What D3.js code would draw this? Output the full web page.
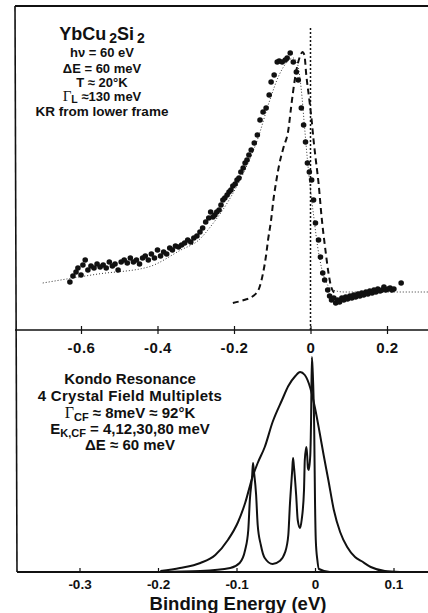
<!DOCTYPE html>
<html>
<head>
<meta charset="utf-8">
<script src="https://cdn.jsdelivr.net/npm/d3@7"></script>
<style>
  body { margin: 0; background: #fff; }
  text { font-family: "Liberation Sans", Arial, Helvetica, sans-serif; font-weight: bold; fill: #111; }
</style>
</head>
<body>
<div id="chart"></div>
<script>
// ---- data (binding energy in eV, intensity in arbitrary units) ----
const upperTicks = [-0.6, -0.4, -0.2, 0, 0.2];
const lowerTicks = [-0.3, -0.2, -0.1, 0, 0.1];

// measured spectrum (dots)
const photoData = [
  [-0.629,48],[-0.621,54],[-0.613,58],[-0.608,62],[-0.600,55],[-0.595,65],[-0.589,70],[-0.582,60],
  [-0.574,64],[-0.566,62],[-0.558,66],[-0.550,63],[-0.542,65],[-0.534,62],[-0.526,68],[-0.518,64],
  [-0.511,66],[-0.503,60],[-0.495,68],[-0.487,70],[-0.479,67],[-0.471,72],[-0.463,68],[-0.455,70],
  [-0.447,66],[-0.439,72],[-0.432,74],[-0.424,70],[-0.416,76],[-0.408,72],[-0.400,80],[-0.392,74],
  [-0.384,78],[-0.376,76],[-0.368,82],[-0.361,80],[-0.353,84],[-0.345,83],[-0.337,85],[-0.329,87],
  [-0.321,90],[-0.313,88],[-0.305,92],[-0.297,94],[-0.289,98],[-0.282,102],[-0.274,108],[-0.266,112],
  [-0.261,118],[-0.255,113],[-0.250,115],[-0.245,118],[-0.239,120],[-0.234,125],[-0.229,130],[-0.224,132],
  [-0.218,135],[-0.213,138],[-0.208,140],[-0.203,144],[-0.197,146],[-0.192,150],[-0.187,152],[-0.182,158],
  [-0.176,162],[-0.171,167],[-0.166,170],[-0.161,175],[-0.155,180],[-0.147,187],[-0.139,195],[-0.132,210],
  [-0.124,218],[-0.116,222],[-0.108,235],[-0.103,248],[-0.095,255],[-0.087,268],[-0.082,269],[-0.074,268],
  [-0.066,270],[-0.061,272],[-0.053,277],[-0.045,268],[-0.037,258],[-0.032,250],[-0.024,222],[-0.018,205],
  [-0.013,188],[-0.008,167],[-0.003,158],[0.003,150],[0.008,130],[0.013,107],[0.021,90],[0.026,73],
  [0.032,57],[0.037,50],[0.045,40],[0.050,34],[0.055,30],[0.061,32],[0.066,27],[0.071,30],
  [0.076,28],[0.082,32],[0.087,30],[0.092,33],[0.097,31],[0.103,34],[0.108,32],[0.113,35],
  [0.118,33],[0.124,36],[0.129,34],[0.134,37],[0.139,35],[0.145,38],[0.150,36],[0.155,39],
  [0.161,37],[0.166,40],[0.171,38],[0.176,41],[0.182,39],[0.187,40],[0.192,43],[0.197,40],
  [0.203,41],[0.208,42],[0.213,40],[0.218,41],[0.237,47]
];

// fitted curve (fine dotted)
const fitCurve = [
  [-0.700,47],[-0.555,56],[-0.424,63],[-0.339,80],[-0.292,90],[-0.258,105],[-0.213,130],[-0.174,158],
  [-0.139,190],[-0.108,228],[-0.082,255],[-0.061,268],[-0.045,272],[-0.034,266],[-0.024,240],[-0.016,205],
  [-0.008,170],[0.000,140],[0.008,115],[0.018,85],[0.029,62],[0.042,47],[0.058,40],[0.089,38],
  [0.182,38],[0.308,38]
];

// Kondo resonance from lower frame, broadened (dashed)
const krCurve = [
  [-0.203,27],[-0.174,30],[-0.150,34],[-0.134,42],[-0.124,57],[-0.116,75],[-0.111,90],[-0.103,110],
  [-0.097,130],[-0.089,150],[-0.082,165],[-0.071,182],[-0.058,200],[-0.050,225],[-0.042,248],[-0.034,265],
  [-0.026,275],[-0.021,278],[-0.016,275],[-0.011,255],[-0.003,230],[0.003,210],[0.008,190],[0.013,173],
  [0.021,147],[0.029,113],[0.039,80],[0.047,57],[0.055,42],[0.066,36]
];

// lower frame: convolved resonance (broad) and crystal field multiplets (narrow)
const broadCurve = [
  [-0.197,1],[-0.172,4],[-0.146,9],[-0.127,17],[-0.111,32],[-0.098,50],[-0.089,69],[-0.080,94],
  [-0.073,109],[-0.064,125],[-0.054,150],[-0.042,172],[-0.034,186],[-0.025,196],[-0.019,200],[-0.013,197],
  [-0.006,184],[0.000,164],[0.006,139],[0.011,117],[0.017,92],[0.024,62],[0.032,40],[0.041,25],
  [0.051,15],[0.059,11],[0.071,5],[0.089,1],[0.108,0]
];
const multipletCurve = [
  [-0.200,0],[-0.146,1],[-0.108,4],[-0.096,9],[-0.089,22],[-0.085,42],[-0.083,72],[-0.080,97],
  [-0.079,109],[-0.078,102],[-0.075,77],[-0.073,47],[-0.069,27],[-0.064,14],[-0.054,8],[-0.045,11],
  [-0.038,20],[-0.034,37],[-0.032,67],[-0.029,102],[-0.028,114],[-0.027,107],[-0.024,77],[-0.022,52],
  [-0.019,44],[-0.017,52],[-0.014,82],[-0.013,112],[-0.011,125],[-0.010,117],[-0.009,104],[-0.008,102],
  [-0.006,117],[-0.005,152],[-0.004,215],[-0.003,202],[-0.001,142],[0.000,72],[0.001,32],[0.003,12],
  [0.005,3],[0.019,0],[0.108,0]
];

// ---- layout ----
const W = 428, H = 613;
const left = 15, right = 428;
const topY = 6, midY = 330, botY = 572;

const svg = d3.select("#chart").append("svg")
    .attr("width", W)
    .attr("height", H);

// scales
const xTop = d3.scaleLinear().domain([-0.6, 0.2]).range([81, 387]);
const yTop = d3.scaleLinear().domain([0, 324]).range([midY, topY]);
const xBot = d3.scaleLinear().domain([-0.3, 0.1]).range([79.5, 393.5]);
const yBot = d3.scaleLinear().domain([0, 242]).range([botY, midY]);

const fmt = d => d === 0 ? "0" : d.toFixed(1);

// frame lines
svg.append("line").attr("x1", left).attr("x2", right).attr("y1", topY).attr("y2", topY)
    .attr("stroke", "#111").attr("stroke-width", 2);
svg.append("line").attr("x1", left).attr("x2", left + 2).attr("y1", topY).attr("y2", botY)
    .attr("stroke", "#111").attr("stroke-width", 1.6);
svg.append("line").attr("x1", left).attr("x2", right).attr("y1", midY).attr("y2", midY)
    .attr("stroke", "#111").attr("stroke-width", 1.6);
svg.append("line").attr("x1", left + 2).attr("x2", right).attr("y1", botY).attr("y2", botY)
    .attr("stroke", "#111").attr("stroke-width", 1.8);

// upper axis (ticks cross the middle line)
const upperAxis = svg.append("g")
    .attr("transform", `translate(0,${midY})`)
    .call(d3.axisBottom(xTop).tickValues(upperTicks).tickFormat(fmt).tickSize(4).tickPadding(8));
upperAxis.select(".domain").remove();
upperAxis.selectAll(".tick line").attr("y1", -4).attr("y2", 4).attr("stroke", "#111").attr("stroke-width", 1.2);
upperAxis.selectAll(".tick text").attr("font-size", 15).attr("font-family", null).attr("fill", "#111")
    .attr("letter-spacing", 0.5);

// lower axis
const lowerAxis = svg.append("g")
    .attr("transform", `translate(0,${botY})`)
    .call(d3.axisBottom(xBot).tickValues(lowerTicks).tickFormat(fmt).tickSize(4).tickPadding(3));
lowerAxis.select(".domain").remove();
lowerAxis.selectAll(".tick line").attr("y1", -4).attr("y2", 0).attr("stroke", "#111").attr("stroke-width", 1.2);
lowerAxis.selectAll(".tick text").attr("font-size", 13.5).attr("font-family", null).attr("fill", "#111");

svg.append("text")
    .attr("x", 238).attr("y", 610)
    .attr("text-anchor", "middle")
    .attr("font-size", 18.5)
    .text("Binding Energy (eV)");

// ---- upper frame ----
const lineTop = d3.line().x(d => xTop(d[0])).y(d => yTop(d[1])).curve(d3.curveMonotoneX);

svg.append("line")
    .attr("x1", xTop(0)).attr("x2", xTop(0))
    .attr("y1", yTop(302)).attr("y2", yTop(0))
    .attr("stroke", "#111").attr("stroke-width", 1.5).attr("stroke-dasharray", "2,2");

svg.append("path").datum(fitCurve)
    .attr("d", lineTop)
    .attr("fill", "none").attr("stroke", "#333").attr("stroke-width", 1)
    .attr("stroke-dasharray", "1,2");

svg.append("path").datum(krCurve)
    .attr("d", lineTop)
    .attr("fill", "none").attr("stroke", "#111").attr("stroke-width", 2)
    .attr("stroke-dasharray", "6,4");

svg.selectAll(".dot").data(photoData).enter().append("circle")
    .attr("class", "dot")
    .attr("cx", d => xTop(d[0]))
    .attr("cy", d => yTop(d[1]))
    .attr("r", 2.8)
    .attr("fill", "#111");

// upper labels
const ut = svg.append("g").attr("text-anchor", "middle");
const t1 = ut.append("text").attr("x", 102).attr("y", 40).attr("font-size", 18);
t1.append("tspan").text("YbCu");
t1.append("tspan").attr("dx", 3).attr("dy", 3).attr("font-size", 14).text("2");
t1.append("tspan").attr("dy", -3).text("Si");
t1.append("tspan").attr("dx", 3).attr("dy", 3).attr("font-size", 14).text("2");
ut.append("text").attr("x", 102).attr("y", 57).attr("font-size", 13).text("hν = 60 eV");
ut.append("text").attr("x", 102).attr("y", 73).attr("font-size", 13).text("ΔE = 60 meV");
ut.append("text").attr("x", 102).attr("y", 87).attr("font-size", 13).text("T ≈ 20°K");
const t5 = ut.append("text").attr("x", 102).attr("y", 101).attr("font-size", 13);
t5.append("tspan").attr("font-family", "'Liberation Serif', serif").attr("font-weight", "normal").attr("font-size", 15).text("Γ");
t5.append("tspan").attr("dy", 2).attr("font-size", 10.5).text("L");
t5.append("tspan").attr("dy", -2).text(" ≈130 meV");
ut.append("text").attr("x", 102).attr("y", 116).attr("font-size", 13.5).text("KR from lower frame");

// ---- lower frame ----
const lineBot = d3.line().x(d => xBot(d[0])).y(d => yBot(d[1])).curve(d3.curveMonotoneX);

svg.append("path").datum(broadCurve)
    .attr("d", lineBot)
    .attr("fill", "none").attr("stroke", "#111").attr("stroke-width", 2);

svg.append("path").datum(multipletCurve)
    .attr("d", lineBot)
    .attr("fill", "none").attr("stroke", "#111").attr("stroke-width", 2);

const lt = svg.append("g").attr("text-anchor", "middle").attr("font-size", 15);
lt.append("text").attr("x", 130).attr("y", 384).text("Kondo Resonance");
lt.append("text").attr("x", 130).attr("y", 401).attr("letter-spacing", 0.3).text("4 Crystal Field Multiplets");
const b3 = lt.append("text").attr("x", 130).attr("y", 418);
b3.append("tspan").attr("font-family", "'Liberation Serif', serif").attr("font-weight", "normal").attr("font-size", 16).text("Γ");
b3.append("tspan").attr("dy", 3).attr("font-size", 11).text("CF");
b3.append("tspan").attr("dy", -3).text(" ≈ 8meV ≈ 92°K");
const b4 = lt.append("text").attr("x", 130).attr("y", 434);
b4.append("tspan").text("E");
b4.append("tspan").attr("dy", 3).attr("font-size", 11).text("K,CF");
b4.append("tspan").attr("dy", -3).text(" = 4,12,30,80 meV");
lt.append("text").attr("x", 130).attr("y", 450).text("ΔE ≈ 60 meV");
</script>
</body>
</html>
